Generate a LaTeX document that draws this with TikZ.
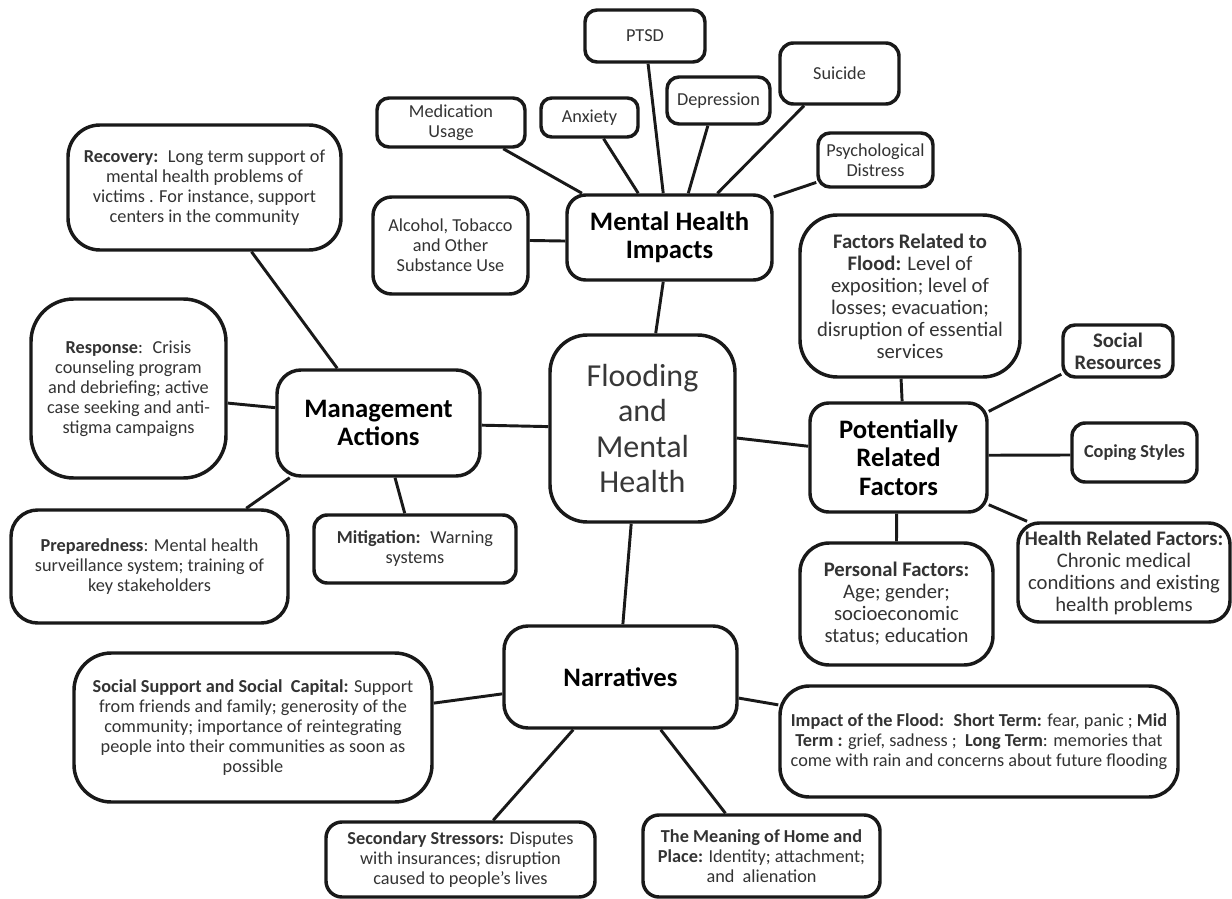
\documentclass[tikz,border=0pt]{standalone}
\usepackage{fontspec}
\setmainfont{Carlito}
\usetikzlibrary{calc,backgrounds}
\tikzset{
  box/.style={draw=black!90, line width=2.6pt, fill=white, rounded corners=#1, inner sep=0pt,
              align=center, text=black!80, font=\fontsize{13.7}{15}\selectfont},
  box/.default=8pt,
  place/.style n args={4}{at={({(#1+#3)/2},{(#2+#4)/2})},
              minimum width={(#3-#1)*0.75pt}, minimum height={(#4-#2)*0.75pt}},
  big/.style={font=\fontsize{15.5}{16.5}\selectfont},
  title/.style={font=\fontsize{20}{21.3}\selectfont\bfseries, text=black},
  centre title/.style={font=\fontsize{24}{26.3}\selectfont, text=black!78},
  link/.style={line width=2.2pt, draw=black!90},
}
\begin{document}
\begin{tikzpicture}[x=0.75pt,y=-0.75pt]
\useasboundingbox (0,0) rectangle (1232,899);

% Mental health impacts branch
\node[box=9pt, place={585}{10}{705}{62}] (ptsd) {PTSD};
\node[box=9pt, place={377}{98}{525}{147}] (med) {Medication\\Usage};
\node[box=8pt, place={541}{98}{638}{137}] (anx) {Anxiety};
\node[box=9pt, place={667}{77}{770}{124}] (dep) {Depression};
\node[box=10pt, place={780}{43}{899}{104}] (sui) {Suicide};
\node[box=9pt, place={818}{133}{933}{187}] (psy) {Psychological\\Distress};
\node[box=14pt, place={373}{197}{528}{294}] (alc) {Alcohol, Tobacco\\and Other\\Substance Use};
\node[box=14pt, title, place={567}{195}{772}{280}] (mhi) {Mental Health\\Impacts};

% Management branch
\node[box=24pt, place={68}{125}{341}{250}] (rec) {\textbf{Recovery:}~ Long term support of\\mental health problems of\\victims . For instance, support\\centers in the community};
\node[box=32pt, place={31}{299}{226}{478}] (resp) {\textbf{Response}:~ Crisis\\counseling program\\and debriefing; active\\case seeking and anti-\\stigma campaigns};
\node[box=18pt, title, place={277}{370}{480}{476}] (mgmt) {Management\\Actions};
\node[box=20pt, place={11}{510}{288}{623}] (prep) {\textbf{Preparedness}: Mental health\\surveillance system; training of\\key stakeholders};
\node[box=10pt, place={314}{515}{516}{583}] (mit) {\textbf{Mitigation:}~ Warning\\systems};

% Centre
\node[box=28pt, centre title, place={550}{335}{735}{522}] (flood) {Flooding\\and\\Mental\\Health};

% Potentially related factors branch
\node[box=28pt, big, place={800}{215}{1020}{377}] (fac) {\textbf{Factors Related to}\\\textbf{Flood:} Level of\\exposition; level of\\losses; evacuation;\\disruption of essential\\services};
\node[box=9pt, big, place={1063}{325}{1173}{377}] (soc) {\textbf{Social}\\\textbf{Resources}};
\node[box=14pt, title, place={810}{403}{987}{512}] (prf) {Potentially\\Related\\Factors};
\node[box=10pt, place={1072}{423}{1197}{482}] (cop) {\textbf{Coping Styles}};
\node[box=16pt, big, place={1018}{523}{1230}{622}] (hea) {\textbf{Health Related Factors:}\\Chronic medical\\conditions and existing\\health problems};
\node[box=22pt, big, place={800}{543}{993}{665}] (pers) {\textbf{Personal Factors:}\\Age; gender;\\socioeconomic\\status; education};

% Narratives branch
\node[box=18pt, title, place={504}{626}{737}{728}] (narr) {Narratives};
\node[box=28pt, place={74}{653}{432}{802}] (ss) {\textbf{Social Support and Social~ Capital:} Support\\from friends and family; generosity of the\\community; importance of reintegrating\\people into their communities as soon as\\possible};
\node[box=22pt, place={780}{686}{1178}{797}] (imp) {\textbf{Impact of the Flood:~ Short Term:} fear, panic ; \textbf{Mid}\\\textbf{Term :} grief, sadness ;~ \textbf{Long Term}: memories that\\come with rain and concerns about future flooding};
\node[box=12pt, place={326}{822}{595}{897}] (sec) {\textbf{Secondary Stressors:} Disputes\\with insurances; disruption\\caused to people's lives};
\node[box=12pt, place={643}{815}{880}{897}] (mean) {\textbf{The Meaning of Home and}\\\textbf{Place:} Identity; attachment;\\and~ alienation};

\begin{pgfonlayer}{background}
% MHI
\draw[link] ($(med.south west)!0.845!(med.south east)$) -- ($(mhi.north west)!0.08!(mhi.north east)$);
\draw[link] ($(anx.south west)!0.64!(anx.south east)$) -- ($(mhi.north west)!0.35!(mhi.north east)$);
\draw[link] ($(ptsd.south west)!0.525!(ptsd.south east)$) -- ($(mhi.north west)!0.47!(mhi.north east)$);
\draw[link] ($(dep.south west)!0.40!(dep.south east)$) -- ($(mhi.north west)!0.59!(mhi.north east)$);
\draw[link] ($(sui.south west)!0.21!(sui.south east)$) -- ($(mhi.north west)!0.73!(mhi.north east)$);
\draw[link] ($(psy.north west)!0.89!(psy.south west)$) -- ($(mhi.north east)!0.04!(mhi.south east)$);
\draw[link] ($(alc.north east)!0.45!(alc.south east)$) -- ($(mhi.north west)!0.54!(mhi.south west)$);
\draw[link] ($(mhi.south west)!0.47!(mhi.south east)$) -- ($(flood.north west)!0.57!(flood.north east)$);
% Management
\draw[link] ($(rec.south west)!0.67!(rec.south east)$) -- ($(mgmt.north west)!0.3!(mgmt.north east)$);
\draw[link] ($(resp.north east)!0.58!(resp.south east)$) -- ($(mgmt.north west)!0.36!(mgmt.south west)$);
\draw[link] ($(prep.north west)!0.845!(prep.north east)$) -- ($(mgmt.south west)!0.07!(mgmt.south east)$);
\draw[link] ($(mit.north west)!0.45!(mit.north east)$) -- ($(mgmt.south west)!0.58!(mgmt.south east)$);
\draw[link] ($(mgmt.north east)!0.52!(mgmt.south east)$) -- ($(flood.north west)!0.49!(flood.south west)$);
% PRF
\draw[link] ($(flood.north east)!0.55!(flood.south east)$) -- ($(prf.north west)!0.4!(prf.south west)$);
\draw[link] ($(fac.south west)!0.46!(fac.south east)$) -- ($(prf.north west)!0.52!(prf.north east)$);
\draw[link] ($(prf.north east)!0.09!(prf.south east)$) -- ($(soc.north west)!0.92!(soc.south west)$);
\draw[link] ($(prf.north east)!0.48!(prf.south east)$) -- ($(cop.north west)!0.54!(cop.south west)$);
\draw[link] ($(prf.north east)!0.92!(prf.south east)$) -- ($(hea.north west)!0.05!(hea.north east)$);
\draw[link] ($(prf.south west)!0.49!(prf.south east)$) -- ($(pers.north west)!0.5!(pers.north east)$);
% Narratives
\draw[link] ($(flood.south west)!0.44!(flood.south east)$) -- ($(narr.north west)!0.51!(narr.north east)$);
\draw[link] ($(narr.north west)!0.66!(narr.south west)$) -- ($(ss.north east)!0.34!(ss.south east)$);
\draw[link] ($(narr.north east)!0.7!(narr.south east)$) -- ($(imp.north west)!0.18!(imp.south west)$);
\draw[link] ($(narr.south west)!0.3!(narr.south east)$) -- ($(sec.north west)!0.62!(sec.north east)$);
\draw[link] ($(narr.south west)!0.67!(narr.south east)$) -- ($(mean.north west)!0.35!(mean.north east)$);
\end{pgfonlayer}
\end{tikzpicture}
\end{document}
